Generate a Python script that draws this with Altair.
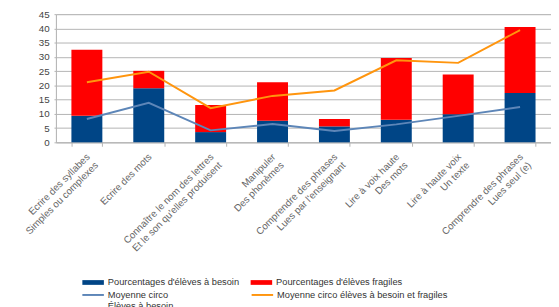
import altair as alt
import pandas as pd

categories = [
    "Ecrire des syllabes\nSimples ou complexes",
    "Ecrire des mots",
    "Connaître le nom des lettres\nEt le son qu'elles produisent",
    "Manipuler\nDes phonèmes",
    "Comprendre des phrases\nLues par l'enseignant",
    "Lire à voix haute\nDes mots",
    "Lire à haute voix\nUn texte",
    "Comprendre des phrases\nLues seul (e)",
]
besoin = [9.3, 19.0, 3.6, 7.6, 5.6, 7.9, 9.9, 17.3]
fragiles = [23.2, 6.1, 9.5, 13.5, 2.6, 21.7, 13.9, 23.2]
moy_besoin = [8.2, 13.9, 4.2, 6.4, 4.0, 6.3, 9.3, 12.4]
moy_total = [21.1, 24.8, 12.0, 16.3, 18.2, 28.8, 27.9, 39.4]
y_ticks = [0, 5, 10, 15, 20, 25, 30, 35, 40, 45]

bar_series = ["Pourcentages d'élèves à besoin", "Pourcentages d'élèves fragiles"]
bar_colors = ["#004586", "#ff0000"]
line_series = ["Moyenne circo\nÉlèves à besoin", "Moyenne circo élèves à besoin et fragiles"]
line_colors = ["#5d86b8", "#ff950e"]

bar_rows = []
for i, c in enumerate(categories):
    bar_rows.append({"cat": c, "serie": bar_series[0], "value": besoin[i], "ord": 0})
    bar_rows.append({"cat": c, "serie": bar_series[1], "value": fragiles[i], "ord": 1})
bars_df = pd.DataFrame(bar_rows)

line_rows = []
for i, c in enumerate(categories):
    line_rows.append({"cat": c, "serie": line_series[0], "value": moy_besoin[i]})
    line_rows.append({"cat": c, "serie": line_series[1], "value": moy_total[i]})
lines_df = pd.DataFrame(line_rows)

NB = "\u00a0"
A0 = "split(datum.label,'\\n')[0]"
A1 = "split(datum.label,'\\n')[1]"
M = f"max(length({A0}), length({A1}))"
x_label_expr = (
    f"length(split(datum.label,'\\n')) > 1 ? "
    f"[pad({A0}, {M}, '{NB}'), pad({A1}, {M}, '{NB}')] : datum.label"
)
legend_label_expr = (
    f"length(split(datum.label,'\\n')) > 1 ? split(datum.label,'\\n') : [datum.label, '{NB}']"
)

common_legend = dict(
    title=None,
    orient="none",
    columns=2,
    rowPadding=0,
    symbolSize=484,
    labelFontSize=9.5,
    labelColor="#333333",
    labelFont="Liberation Sans",
    labelOffset=3,
    labelLimit=400,
    legendX=26,
)

bar_legend = alt.Legend(
    legendY=262,
    columnPadding=10,
    symbolType="M-1,-0.22H1V0.22H-1Z",
    **common_legend,
)
line_legend = alt.Legend(
    legendY=275,
    columnPadding=75,
    symbolType="stroke",
    symbolStrokeWidth=2,
    labelExpr=legend_label_expr,
    **common_legend,
)

x = alt.X(
    "cat:N",
    sort=categories,
    scale=alt.Scale(paddingInner=0.5, paddingOuter=0.25),
    axis=alt.Axis(
        title=None,
        labelAngle=-45,
        labelAlign="right",
        labelBaseline="middle",
        labelFontSize=10,
        labelColor="#666666",
        labelFont="Liberation Sans",
        labelPadding=9,
        labelOffset=1,
        labelLimit=300,
        labelExpr=x_label_expr,
        tickBand="extent",
        tickSize=4,
        tickColor="#b3b3b3",
        domainColor="#b3b3b3",
        grid=False,
    ),
)

y_scale = alt.Scale(domain=[0, 45], nice=False)
y_axis = alt.Axis(
    title=None,
    values=y_ticks,
    grid=True,
    gridColor="#b3b3b3",
    domainColor="#b3b3b3",
    tickColor="#b3b3b3",
    tickSize=2,
    labelFontSize=10,
    labelColor="#444444",
    labelFont="Liberation Sans",
    labelPadding=5,
)

bars = alt.Chart(bars_df).mark_bar().encode(
    x=x,
    y=alt.Y("value:Q", stack="zero", scale=y_scale, axis=y_axis),
    fill=alt.Fill("serie:N", scale=alt.Scale(domain=bar_series, range=bar_colors), legend=bar_legend),
    order=alt.Order("ord:Q"),
)

lines = alt.Chart(lines_df).mark_line(strokeWidth=2).encode(
    x=x,
    y=alt.Y("value:Q", scale=y_scale, axis=y_axis),
    stroke=alt.Stroke("serie:N", scale=alt.Scale(domain=line_series, range=line_colors), legend=line_legend),
)

chart = (
    alt.layer(bars, lines)
    .resolve_scale(fill="independent", stroke="independent")
    .properties(
        width=506,
        height=131,
        autosize=alt.AutoSizeParams(type="none"),
        padding={"left": 49, "top": 3, "right": 0, "bottom": 165},
    )
    .configure_view(stroke=None)
    .configure(background="white")
)

chart.save("out.html", embed_options={"renderer": "svg", "actions": False})
